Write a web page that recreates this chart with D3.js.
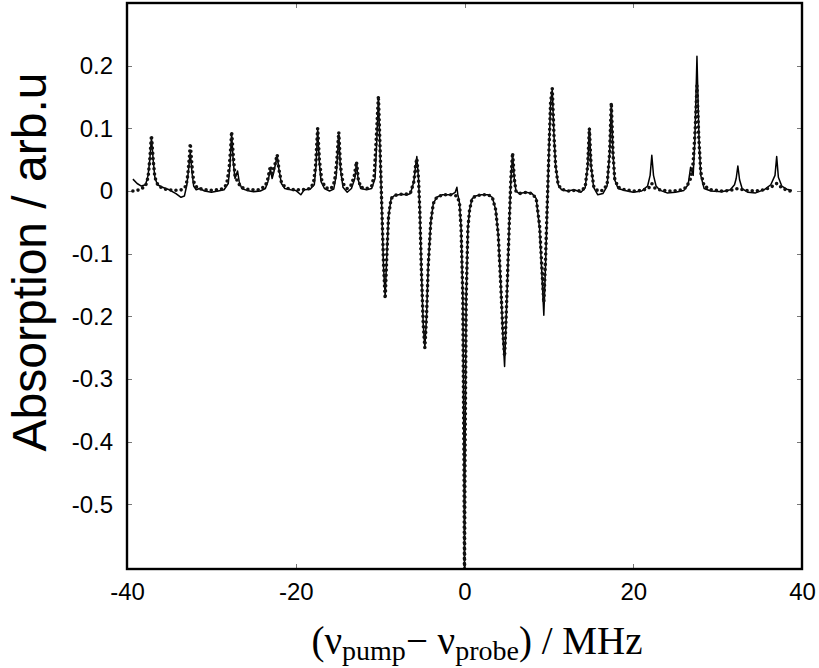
<!DOCTYPE html>
<html>
<head>
<meta charset="utf-8">
<title>Absorption spectrum</title>
<style>
body { margin: 0; background: #ffffff; }
.tick line { stroke: #777777; stroke-width: 1px; shape-rendering: crispEdges; }
.tick text { font-family: "Liberation Sans", Arial, sans-serif; font-size: 24px; fill: #000000; }
.frame { fill: none; stroke: #000000; stroke-width: 2.4px; }
</style>
</head>
<body>
<script src="https://d3js.org/d3.v7.min.js"></script>
<script>
'use strict';

// axis ticks
const xTicks = [-40, -20, 0, 20, 40];
const yTicks = [-0.5, -0.4, -0.3, -0.2, -0.1, 0, 0.1, 0.2];

// measured spectrum (solid line): detuning in MHz, absorption in arb. units
const expFreq = [-39.3, -38.8, -38.3, -37.8, -37.5, -37.3, -37.1, -36.9, -36.7, -36.4, -35.8, -35.0, -34.2, -33.6, -33.2,
  -32.9, -32.7, -32.5, -32.3, -32.1, -31.8, -31.4, -30.8, -30.0, -29.2, -28.5, -28.0, -27.8, -27.6, -27.4,
  -27.2, -26.9, -26.7, -26.4, -25.8, -25.0, -24.2, -23.6, -23.3, -23.0, -22.8, -22.6, -22.2, -22.0, -21.7,
  -21.3, -20.6, -20.0, -19.4, -19.0, -18.3, -17.8, -17.6, -17.4, -17.2, -17.0, -16.6, -16.0, -15.5, -15.2,
  -14.9, -14.7, -14.4, -13.9, -13.4, -13.0, -12.8, -12.6, -12.3, -11.6, -11.0, -10.6, -10.4, -10.2, -10.0,
  -9.8, -9.6, -9.4, -9.2, -9.0, -8.7, -8.3, -7.5, -6.8, -6.4, -6.0, -5.8, -5.65, -5.45, -5.3,
  -5.1, -4.9, -4.7, -4.5, -4.3, -4.0, -3.7, -3.3, -2.6, -1.6, -1.1, -0.9, -0.8, -0.6, -0.4,
  -0.2, -0.05, 0, 0.05, 0.2, 0.4, 0.6, 0.9, 1.3, 2.0, 2.8, 3.3, 3.7, 4.0, 4.3,
  4.55, 4.75, 4.95, 5.15, 5.35, 5.5, 5.7, 5.9, 6.1, 6.5, 7.3, 8.0, 8.5, 8.9, 9.2,
  9.4, 9.6, 9.8, 10.0, 10.2, 10.4, 10.6, 10.8, 11.1, 11.5, 12.2, 13.0, 13.8, 14.3, 14.6,
  14.8, 15.0, 15.3, 15.8, 16.4, 16.9, 17.2, 17.4, 17.6, 17.8, 18.2, 19.0, 20.0, 21.0, 21.7,
  22.0, 22.2, 22.4, 22.7, 23.2, 24.0, 25.0, 26.0, 26.5, 26.8, 27.1, 27.3, 27.55, 27.8, 28.0,
  28.4, 29.2, 30.5, 31.5, 32.0, 32.2, 32.4, 32.6, 32.9, 33.6, 34.5, 35.5, 36.3, 36.8, 37.0,
  37.2, 37.6, 38.2, 38.8];
const expAbs = [0.019, 0.012, 0.008, 0.010, 0.025, 0.050, 0.085, 0.050, 0.022, 0.010, 0.006, 0.002, -0.004, -0.010, -0.008,
  0.010, 0.035, 0.062, 0.030, 0.008, 0.002, 0.004, 0.000, -0.002, 0.000, 0.002, 0.012, 0.040, 0.092, 0.045,
  0.020, 0.032, 0.015, 0.004, 0.001, -0.001, 0.000, 0.004, 0.015, 0.035, 0.020, 0.030, 0.057, 0.035, 0.012,
  0.004, 0.002, 0.001, -0.006, 0.002, 0.003, 0.010, 0.040, 0.098, 0.045, 0.015, 0.004, 0.000, 0.003, 0.025,
  0.090, 0.035, 0.006, -0.002, 0.004, 0.020, 0.045, 0.018, 0.004, 0.002, 0.004, 0.020, 0.080, 0.150, 0.060,
  -0.030, -0.120, -0.168, -0.100, -0.040, -0.012, -0.007, -0.005, -0.006, -0.004, 0.015, 0.040, 0.055, 0.020, -0.030,
  -0.130, -0.210, -0.250, -0.200, -0.120, -0.050, -0.020, -0.010, -0.006, -0.006, -0.002, 0.006, -0.005, -0.018, -0.060,
  -0.170, -0.450, -0.620, -0.450, -0.170, -0.060, -0.030, -0.012, -0.008, -0.006, -0.006, -0.010, -0.030, -0.070, -0.150,
  -0.230, -0.280, -0.200, -0.120, -0.035, 0.020, 0.058, 0.020, 0.000, -0.004, -0.002, -0.004, -0.012, -0.060, -0.140,
  -0.198, -0.120, -0.030, 0.060, 0.140, 0.162, 0.090, 0.040, 0.010, 0.002, 0.000, 0.002, -0.002, 0.005, 0.040,
  0.100, 0.040, 0.006, -0.006, -0.004, 0.008, 0.060, 0.138, 0.060, 0.018, 0.004, 0.001, -0.002, 0.000, 0.008,
  0.025, 0.057, 0.025, 0.008, 0.001, -0.003, -0.002, 0.001, 0.010, 0.038, 0.025, 0.080, 0.215, 0.080, 0.025,
  0.004, 0.000, -0.001, 0.002, 0.010, 0.020, 0.040, 0.018, 0.004, -0.002, -0.003, 0.002, 0.010, 0.025, 0.055,
  0.022, 0.008, 0.003, 0.001];

// calculated spectrum (dotted line)
const calcFreq = [-39.3, -38.5, -37.8, -37.5, -37.3, -37.1, -36.9, -36.7, -36.3, -35.5, -34.5, -33.5, -33.0, -32.8, -32.6,
  -32.5, -32.3, -32.1, -31.7, -30.8, -29.8, -28.8, -28.2, -27.9, -27.7, -27.6, -27.4, -27.2, -26.9, -26.5,
  -25.5, -24.4, -23.6, -23.3, -23.0, -22.8, -22.5, -22.2, -22.0, -21.7, -21.2, -20.2, -19.2, -18.3, -17.9,
  -17.65, -17.4, -17.2, -16.9, -16.4, -15.8, -15.4, -15.15, -14.9, -14.7, -14.4, -13.9, -13.4, -13.05, -12.8,
  -12.6, -12.3, -11.6, -11.0, -10.7, -10.45, -10.2, -10.0, -9.8, -9.6, -9.4, -9.2, -9.0, -8.7, -8.3,
  -7.5, -6.8, -6.4, -6.0, -5.8, -5.65, -5.45, -5.3, -5.1, -4.9, -4.7, -4.5, -4.3, -4.0, -3.7,
  -3.3, -2.6, -1.6, -0.9, -0.6, -0.4, -0.2, -0.05, 0, 0.05, 0.2, 0.4, 0.6, 0.9, 1.3,
  2.0, 2.8, 3.3, 3.7, 4.0, 4.3, 4.55, 4.75, 4.95, 5.15, 5.35, 5.5, 5.7, 5.9, 6.1,
  6.5, 7.3, 8.0, 8.5, 8.9, 9.2, 9.4, 9.6, 9.8, 10.0, 10.2, 10.4, 10.6, 10.8, 11.1,
  11.5, 12.2, 13.0, 13.8, 14.3, 14.6, 14.8, 15.0, 15.3, 15.8, 16.4, 16.9, 17.2, 17.4, 17.6,
  17.8, 18.2, 19.0, 20.0, 21.0, 21.8, 22.2, 22.6, 23.4, 24.5, 25.5, 26.3, 26.8, 27.1, 27.35,
  27.55, 27.75, 28.0, 28.4, 29.2, 30.5, 31.5, 32.4, 33.3, 34.5, 35.5, 36.3, 37.0, 37.7, 38.6];
const calcAbs = [0.000, 0.002, 0.008, 0.022, 0.050, 0.089, 0.050, 0.022, 0.008, 0.003, 0.001, 0.002, 0.008, 0.025, 0.055,
  0.076, 0.040, 0.015, 0.005, 0.002, 0.001, 0.003, 0.010, 0.035, 0.070, 0.095, 0.055, 0.025, 0.015, 0.006,
  0.002, 0.002, 0.008, 0.020, 0.040, 0.028, 0.040, 0.058, 0.035, 0.014, 0.005, 0.002, 0.002, 0.004, 0.012,
  0.040, 0.100, 0.050, 0.015, 0.005, 0.004, 0.015, 0.045, 0.094, 0.040, 0.012, 0.004, 0.010, 0.025, 0.047,
  0.020, 0.006, 0.004, 0.008, 0.025, 0.085, 0.152, 0.065, -0.025, -0.115, -0.172, -0.100, -0.040, -0.012, -0.007,
  -0.005, -0.005, -0.003, 0.015, 0.040, 0.052, 0.020, -0.030, -0.130, -0.210, -0.250, -0.200, -0.120, -0.050, -0.020,
  -0.010, -0.006, -0.006, -0.008, -0.018, -0.060, -0.170, -0.450, -0.620, -0.450, -0.170, -0.060, -0.030, -0.012, -0.008,
  -0.006, -0.006, -0.010, -0.030, -0.070, -0.150, -0.225, -0.264, -0.195, -0.115, -0.035, 0.020, 0.061, 0.020, 0.000,
  -0.004, -0.002, -0.004, -0.012, -0.055, -0.130, -0.178, -0.110, -0.025, 0.060, 0.140, 0.164, 0.090, 0.040, 0.010,
  0.003, 0.000, 0.001, 0.000, 0.006, 0.040, 0.100, 0.040, 0.008, 0.000, 0.001, 0.010, 0.060, 0.141, 0.060,
  0.020, 0.006, 0.002, 0.000, 0.001, 0.004, 0.012, 0.004, 0.001, 0.000, 0.001, 0.006, 0.020, 0.045, 0.100,
  0.168, 0.090, 0.030, 0.008, 0.002, 0.000, 0.001, 0.004, 0.001, 0.000, 0.002, 0.006, 0.012, 0.004, 0.000];

const expData = expFreq.map((f, i) => ({ f: f, a: expAbs[i] }));
const calcData = calcFreq.map((f, i) => ({ f: f, a: calcAbs[i] }));

const W = 819, H = 668;
const margin = { left: 127, right: 802, top: 3, bottom: 569 };

const x = d3.scaleLinear().domain([-40, 40]).range([margin.left, margin.right]);
const y = d3.scaleLinear().domain([-0.603, 0.30]).range([margin.bottom, margin.top]);

const svg = d3.select('body').append('svg')
  .attr('width', W)
  .attr('height', H);

svg.append('defs').append('clipPath')
  .attr('id', 'plot-clip')
  .append('rect')
  .attr('x', margin.left).attr('y', margin.top)
  .attr('width', margin.right - margin.left).attr('height', margin.bottom - margin.top);

// ticks point inward on all four sides, labels only left and bottom
svg.append('g')
  .attr('transform', 'translate(' + margin.left + ',0)')
  .call(d3.axisLeft(y).tickValues(yTicks).tickSize(-5).tickPadding(14)
    .tickFormat(d => d === 0 ? '0' : d.toFixed(1)))
  .call(g => g.select('.domain').remove());

svg.append('g')
  .attr('transform', 'translate(' + margin.right + ',0)')
  .call(d3.axisRight(y).tickValues(yTicks).tickSize(-5).tickFormat(''))
  .call(g => g.select('.domain').remove());

svg.append('g')
  .attr('transform', 'translate(0,' + margin.bottom + ')')
  .call(d3.axisBottom(x).tickValues(xTicks).tickSize(-5).tickPadding(14).tickFormat(d => String(d)))
  .call(g => g.select('.domain').remove());

svg.append('g')
  .attr('transform', 'translate(0,' + margin.top + ')')
  .call(d3.axisTop(x).tickValues(xTicks).tickSize(-5).tickFormat(''))
  .call(g => g.select('.domain').remove());

const line = d3.line()
  .x(d => x(d.f))
  .y(d => y(d.a));

const plot = svg.append('g').attr('clip-path', 'url(#plot-clip)');

plot.append('path')
  .datum(expData)
  .attr('d', line)
  .attr('fill', 'none')
  .attr('stroke', '#000000')
  .attr('stroke-width', 1.5)
  .attr('stroke-linejoin', 'round');

plot.append('path')
  .datum(calcData)
  .attr('d', line)
  .attr('fill', 'none')
  .attr('stroke', '#111111')
  .attr('stroke-width', 3.6)
  .attr('stroke-linecap', 'round')
  .attr('stroke-dasharray', '0,5.2');

svg.append('rect')
  .attr('class', 'frame')
  .attr('x', margin.left).attr('y', margin.top)
  .attr('width', margin.right - margin.left).attr('height', margin.bottom - margin.top);

// axis titles
svg.append('text')
  .attr('transform', 'translate(46,' + 262 + ') rotate(-90)')
  .attr('text-anchor', 'middle')
  .style('font-family', '"Liberation Sans", Arial, sans-serif')
  .style('font-size', '48px')
  .text('Absorption / arb.u');

const xt = svg.append('text')
  .attr('x', 477)
  .attr('y', 654)
  .attr('text-anchor', 'middle')
  .style('font-family', '"Liberation Serif", "Times New Roman", serif')
  .style('font-size', '39px');
xt.append('tspan').text('(ν');
xt.append('tspan').attr('dy', 6).style('font-size', '28px').text('pump');
xt.append('tspan').attr('dy', -6).text('− ν');
xt.append('tspan').attr('dy', 6).style('font-size', '28px').text('probe');
xt.append('tspan').attr('dy', -6).text(') / MHz');
</script>
</body>
</html>
